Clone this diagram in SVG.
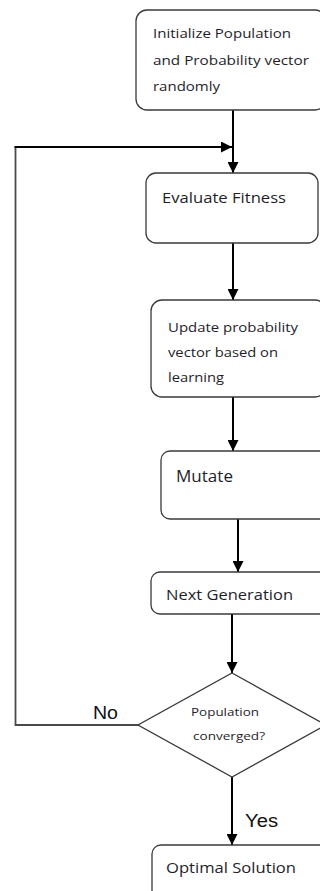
<svg xmlns="http://www.w3.org/2000/svg" width="320" height="891" viewBox="0 0 320 891">
  <style>
    .box { fill: #ffffff; stroke: #3a3a3a; stroke-width: 1.3; }
    .lbl { font-family: "Open Sans", "Noto Sans", "DejaVu Sans", sans-serif; fill: #1e1e2a; }
    .big { font-family: "Liberation Sans", Arial, sans-serif; fill: #111111; }
    .flow { fill: none; stroke: #000000; stroke-width: 2; }
    .loop { fill: none; stroke: #4a4a4a; stroke-width: 1.8; }
  </style>
  <defs>
    <marker id="arrow" viewBox="0 0 10 10" refX="10" refY="5" markerWidth="6" markerHeight="6" markerUnits="userSpaceOnUse" orient="auto">
      <path d="M0,0 L10,5 L0,10 Z" fill="#000000"/>
    </marker>
    <marker id="arrowBig" viewBox="0 0 10 10" refX="10" refY="5" markerWidth="11" markerHeight="11" markerUnits="userSpaceOnUse" orient="auto">
      <path d="M0,0 L10,5 L0,10 Z" fill="#000000"/>
    </marker>
    <clipPath id="clipUpdate">
      <rect x="150" y="300" width="180" height="85"/>
    </clipPath>
  </defs>

  <!-- connectors -->
  <g id="connectors">
    <line class="flow" x1="233" y1="110" x2="233" y2="173" marker-end="url(#arrowBig)"/>
    <path class="loop" d="M138,725 H15.5 V147"/>
    <line class="flow" x1="14.5" y1="147" x2="232" y2="147" marker-end="url(#arrowBig)"/>
    <line class="flow" x1="233" y1="243" x2="233" y2="300" marker-end="url(#arrowBig)"/>
    <line class="flow" x1="233" y1="397" x2="233" y2="451" marker-end="url(#arrowBig)"/>
    <line class="flow" x1="238" y1="519" x2="238" y2="572" marker-end="url(#arrowBig)"/>
    <line class="flow" x1="232" y1="614" x2="232" y2="673" marker-end="url(#arrowBig)"/>
    <line class="flow" x1="232" y1="777" x2="232" y2="845" marker-end="url(#arrowBig)"/>
    <text class="big" x="93" y="719" font-size="18" textLength="25" lengthAdjust="spacingAndGlyphs">No</text>
    <text class="big" x="245" y="827" font-size="18" textLength="33" lengthAdjust="spacingAndGlyphs">Yes</text>
  </g>

  <!-- nodes -->
  <g id="init">
    <rect class="box" x="136" y="10" width="190" height="100" rx="11"/>
    <text class="lbl" x="153" y="38" font-size="13.5" textLength="138" lengthAdjust="spacingAndGlyphs">Initialize Population</text>
    <text class="lbl" x="153" y="65" font-size="13.5" textLength="156" lengthAdjust="spacingAndGlyphs">and Probability vector</text>
    <text class="lbl" x="153" y="91" font-size="13.5" textLength="67" lengthAdjust="spacingAndGlyphs">randomly</text>
  </g>

  <g id="evaluate">
    <rect class="box" x="146" y="173" width="172" height="70" rx="10"/>
    <text class="lbl" x="162" y="203" font-size="15" textLength="124" lengthAdjust="spacingAndGlyphs">Evaluate Fitness</text>
  </g>

  <g id="update">
    <rect class="box" x="151" y="300" width="175" height="97" rx="11"/>
    <text class="lbl" x="168" y="332" font-size="13.5" textLength="130" lengthAdjust="spacingAndGlyphs">Update probability</text>
    <text class="lbl" x="168" y="357" font-size="13.5" textLength="110" lengthAdjust="spacingAndGlyphs">vector based on</text>
    <text class="lbl" x="168" y="382" font-size="13.5" textLength="56" lengthAdjust="spacingAndGlyphs" clip-path="url(#clipUpdate)">learning</text>
  </g>

  <g id="mutate">
    <rect class="box" x="161" y="451" width="170" height="68" rx="9"/>
    <text class="lbl" x="176" y="482" font-size="15.5" textLength="57" lengthAdjust="spacingAndGlyphs">Mutate</text>
  </g>

  <g id="next">
    <rect class="box" x="151" y="572" width="180" height="42" rx="9"/>
    <text class="lbl" x="166" y="600" font-size="15" textLength="127" lengthAdjust="spacingAndGlyphs">Next Generation</text>
  </g>

  <g id="converged">
    <polygon class="box" points="232,673 326,725 232,777 138,725"/>
    <text class="lbl" x="191" y="716" font-size="11.5" textLength="68" lengthAdjust="spacingAndGlyphs">Population</text>
    <text class="lbl" x="193" y="740" font-size="11.5" textLength="72" lengthAdjust="spacingAndGlyphs">converged?</text>
  </g>

  <g id="optimal">
    <rect class="box" x="152" y="845" width="180" height="60" rx="9"/>
    <text class="lbl" x="166" y="873" font-size="15" textLength="130" lengthAdjust="spacingAndGlyphs">Optimal Solution</text>
  </g>
</svg>
